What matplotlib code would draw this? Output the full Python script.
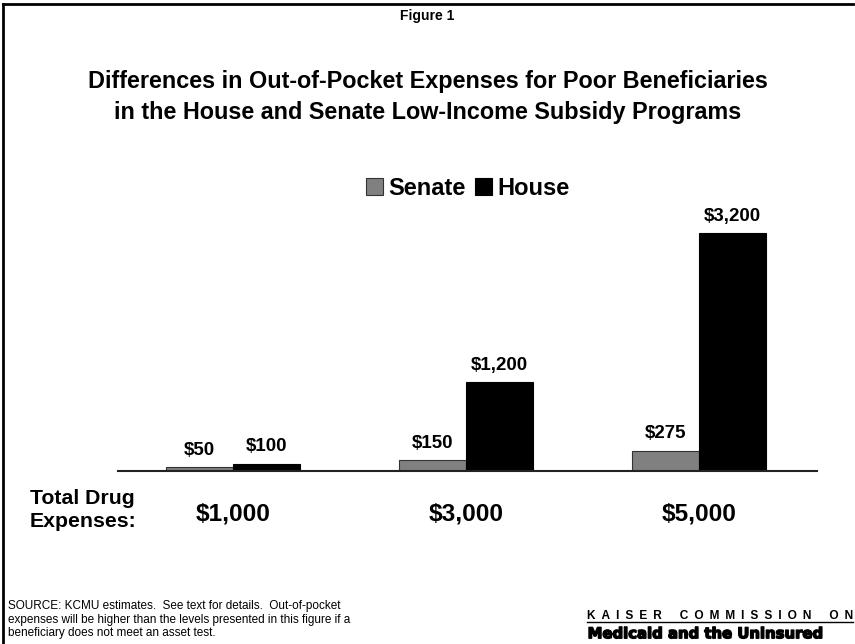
import matplotlib
matplotlib.use("Agg")
from matplotlib import pyplot as plt
from matplotlib import patheffects
import numpy as np

plt.rcParams['font.family'] = ['Liberation Sans', 'DejaVu Sans']

# datos
categorias = ["$1,000", "$3,000", "$5,000"]
senate = [50, 150, 275]
house = [100, 1200, 3200]
etiquetas_senate = ["$50", "$150", "$275"]
etiquetas_house = ["$100", "$1,200", "$3,200"]

fig = plt.figure(figsize=(8.55, 6.44), dpi=100)

# marco superior e izquierdo
fig.add_artist(plt.Line2D([0.004, 0.004], [0.0, 0.994], color="black", lw=2))
fig.add_artist(plt.Line2D([0.004, 0.998], [0.994, 0.994], color="black", lw=2))

ax = fig.add_axes([0.138, 0.2686, 0.8175, 0.3975])
x = np.arange(len(categorias))
w = 0.287
ax.bar(x - w / 2, senate, w, color="#808080", edgecolor="#333333", linewidth=0.8, label="Senate")
ax.bar(x + w / 2, house, w, color="black", edgecolor="black", linewidth=0.8, label="House")

for i in range(len(categorias)):
    ax.text(x[i] - w / 2, senate[i] + 110, etiquetas_senate[i], ha="center", va="bottom",
            fontsize=13.5, fontweight="bold")
    ax.text(x[i] + w / 2, house[i] + 110, etiquetas_house[i], ha="center", va="bottom",
            fontsize=13.5, fontweight="bold")

ax.set_xlim(-0.494, 2.506)
ax.set_ylim(0, 3440)
for s in ["top", "right", "left"]:
    ax.spines[s].set_visible(False)
ax.spines["bottom"].set_linewidth(1.5)
ax.spines["bottom"].set_color("#222222")
ax.set_yticks([])
ax.set_xticks(x)
ax.set_xticklabels(categorias, fontsize=17.6, fontweight="bold")
ax.tick_params(axis="x", length=0, pad=23)

ax.legend(loc="center", bbox_to_anchor=(0.5, 1.105), ncol=2, frameon=False,
          prop={"size": 17, "weight": "bold"}, handlelength=0.75, handleheight=0.75,
          handletextpad=0.2, columnspacing=0.4, borderaxespad=0)

fig.text(0.5, 0.975, "Figure 1", ha="center", va="center", fontsize=10, fontweight="bold")
fig.text(0.5, 0.849, "Differences in Out-of-Pocket Expenses for Poor Beneficiaries\n"
         "in the House and Senate Low-Income Subsidy Programs",
         ha="center", va="center", fontsize=16.8, fontweight="bold", linespacing=1.42)

fig.text(0.035, 0.208, "Total Drug\nExpenses:", ha="left", va="center", fontsize=15.3,
         fontweight="bold", linespacing=1.3)

fig.text(0.009, 0.038, "SOURCE: KCMU estimates.  See text for details.  Out-of-pocket\n"
         "expenses will be higher than the levels presented in this figure if a\n"
         "beneficiary does not meet an asset test.",
         ha="left", va="center", fontsize=8.5, linespacing=1.15)

# logo KCMU
en = "\u2002"
palabras = ["KAISER", "COMMISSION", "ON"]
kaiser = (en * 3).join(en.join(p) for p in palabras)
fig.text(0.998, 0.044, kaiser, ha="right", va="center", fontsize=8.6, fontweight="bold",
         family=["Liberation Sans", "DejaVu Sans"])
fig.add_artist(plt.Line2D([0.686, 0.998], [0.034, 0.034], color="black", lw=1))
fig.text(0.825, 0.016, "Medicaid and the Uninsured", ha="center", va="center",
         fontsize=10.7, fontweight="bold", family=["DejaVu Sans"],
         path_effects=[patheffects.withStroke(linewidth=1.0, foreground="black")])

fig.savefig("out.png", dpi=100)
